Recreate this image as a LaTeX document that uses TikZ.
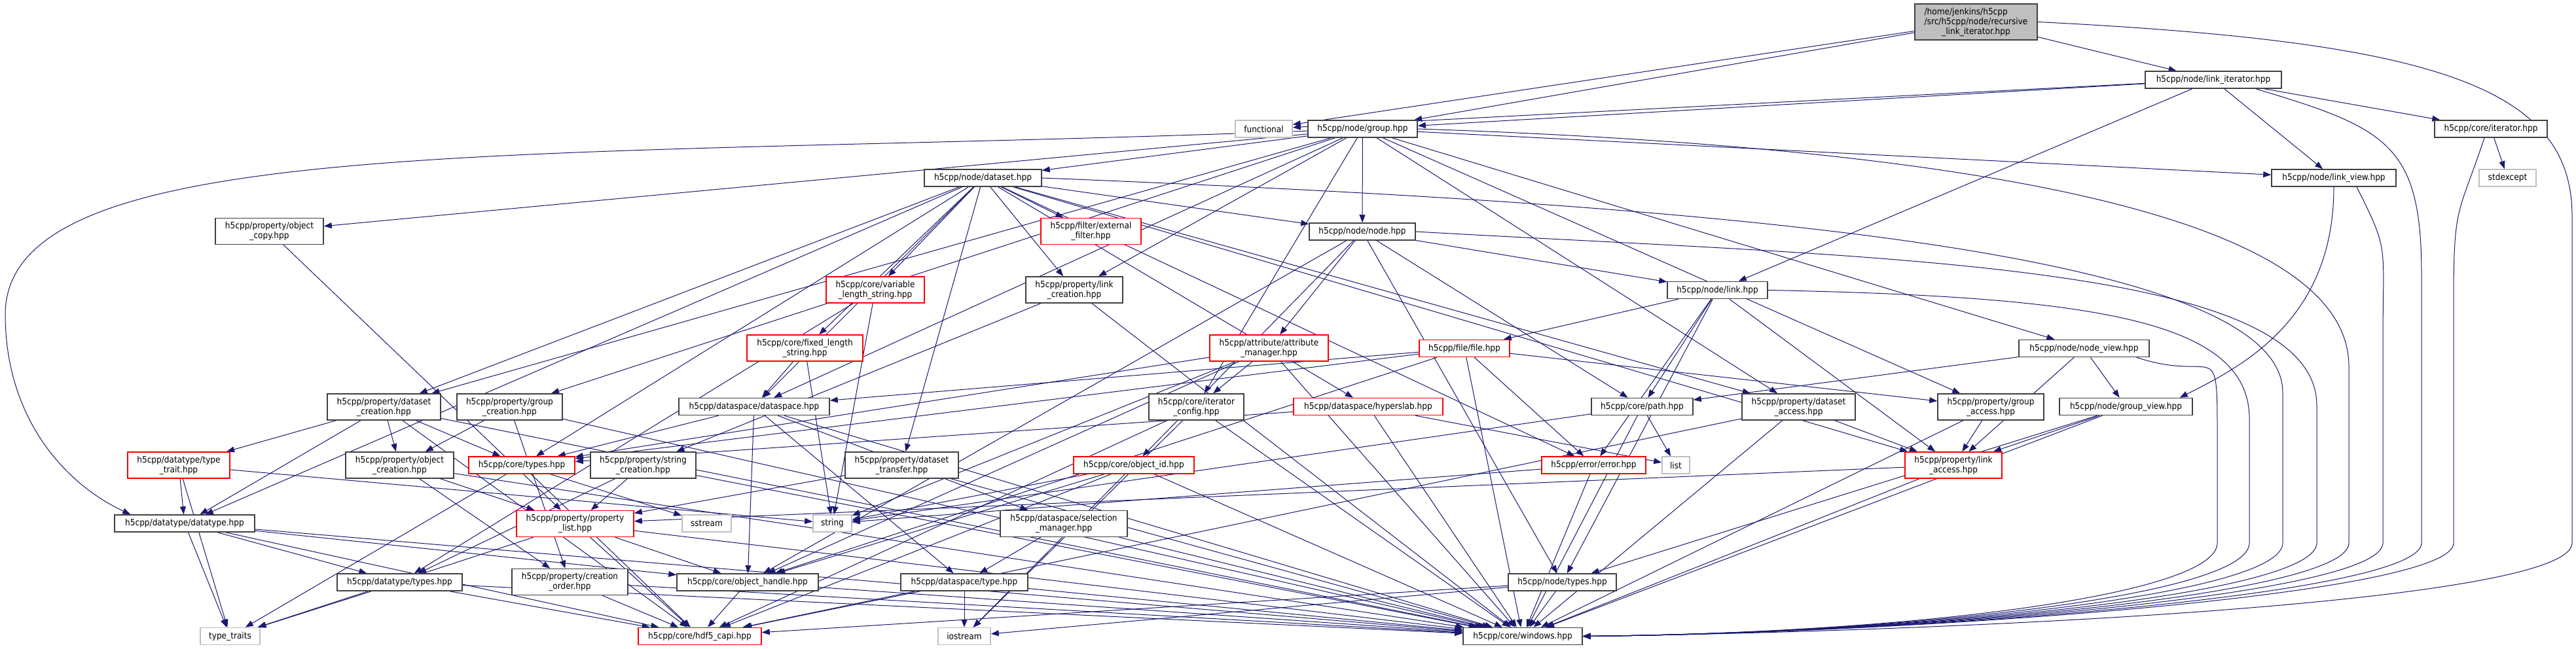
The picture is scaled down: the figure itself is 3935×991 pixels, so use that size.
\documentclass[tikz,border=0pt]{standalone}
\usepackage{fontspec}
\newfontfamily\dfont{DejaVu Sans Condensed}
\usetikzlibrary{arrows.meta}
\pgfdeclarelayer{back}
\pgfdeclarelayer{bg}
\pgfsetlayers{back,bg,main}
\definecolor{edgec}{HTML}{191970}
\definecolor{bordc}{HTML}{404040}
\definecolor{grayc}{HTML}{BFBFBF}
\definecolor{redc}{HTML}{FF0000}
\begin{document}
\begin{tikzpicture}[x=1pt,y=1pt,
  box/.style={draw=bordc, line width=1.5pt, fill=white, inner sep=0pt, align=center,
    font=\dfont\fontsize{13.5}{15}\selectfont, minimum height=26pt},
  tall/.style={minimum height=40pt},
  redbox/.style={box, draw=redc},
  sysbox/.style={box, draw=grayc},
  e/.style={draw=edgec, line width=1pt, -{Triangle[length=12pt,width=9pt]}},
]
\begin{pgfonlayer}{back}
\fill[white] (0,0) rectangle (3935,-991);
\end{pgfonlayer}
\useasboundingbox (0,0) rectangle (3935,-991);

% nodes
\node[box, fill=grayc, minimum width=187pt, minimum height=55pt] (root) at (3018.5,-33.5)
  {\rlap{/home/jenkins/h5cpp}\phantom{/src/h5cpp/node/recursive}\\/src/h5cpp/node/recursive\\\_link\_iterator.hpp};
\node[sysbox, minimum width=87pt] (fn) at (1930.5,-197) {functional};
\node[box, minimum width=167pt] (grp) at (2081.5,-197) {h5cpp/node/group.hpp};
\node[box, minimum width=208pt] (liter) at (3381,-122) {h5cpp/node/link\_iterator.hpp};
\node[box, minimum width=172pt] (citer) at (3805,-197) {h5cpp/core/iterator.hpp};
\node[sysbox, minimum width=87pt] (stdexc) at (3830.5,-272) {stdexcept};
\node[box, minimum width=190pt] (lview) at (3565,-272) {h5cpp/node/link\_view.hpp};
\node[box, minimum width=179pt] (dset) at (1501.5,-272) {h5cpp/node/dataset.hpp};
\node[box, minimum width=162pt] (node) at (2081,-354) {h5cpp/node/node.hpp};
\node[box, tall, minimum width=165pt] (ocopy) at (411.5,-353.5) {h5cpp/property/object\\\_copy.hpp};
\node[redbox, tall, minimum width=153pt] (extf) at (1666.5,-353.5) {h5cpp/filter/external\\\_filter.hpp};
\node[box, tall, minimum width=148pt] (lcre) at (1641,-443) {h5cpp/property/link\\\_creation.hpp};
\node[redbox, tall, minimum width=150pt] (vls) at (1337,-443) {h5cpp/core/variable\\\_length\_string.hpp};
\node[box, minimum width=153pt] (link) at (2623.5,-443.5) {h5cpp/node/link.hpp};
\node[redbox, tall, minimum width=177pt] (fls) at (1229.5,-532) {h5cpp/core/fixed\_length\\\_string.hpp};
\node[redbox, tall, minimum width=181pt] (attm) at (1938.5,-532) {h5cpp/attribute/attribute\\\_manager.hpp};
\node[redbox, minimum width=138pt] (file) at (2237,-532.5) {h5cpp/file/file.hpp};
\node[box, minimum width=199pt] (nview) at (3183.5,-532.5) {h5cpp/node/node\_view.hpp};
\node[box, tall, minimum width=173pt] (dscre) at (586.5,-622) {h5cpp/property/dataset\\\_creation.hpp};
\node[box, tall, minimum width=161pt] (gcre) at (778.5,-622) {h5cpp/property/group\\\_creation.hpp};
\node[box, minimum width=230pt] (dspace) at (1152,-621.5) {h5cpp/dataspace/dataspace.hpp};
\node[box, tall, minimum width=145pt] (itcfg) at (1827.5,-622) {h5cpp/core/iterator\\\_config.hpp};
\node[redbox, minimum width=228pt] (hslab) at (2090,-621.5) {h5cpp/dataspace/hyperslab.hpp};
\node[box, minimum width=155pt] (path) at (2508.5,-621.5) {h5cpp/core/path.hpp};
\node[box, tall, minimum width=173pt] (dsacc) at (2747.5,-622) {h5cpp/property/dataset\\\_access.hpp};
\node[box, tall, minimum width=162pt] (gacc) at (3041,-622) {h5cpp/property/group\\\_access.hpp};
\node[box, minimum width=203pt] (gview) at (3247.5,-621.5) {h5cpp/node/group\_view.hpp};
\node[redbox, tall, minimum width=156pt] (ttrait) at (273,-711) {h5cpp/datatype/type\\\_trait.hpp};
\node[box, tall, minimum width=165pt] (ocre) at (610.5,-711) {h5cpp/property/object\\\_creation.hpp};
\node[redbox, minimum width=162pt] (ctypes) at (797,-711) {h5cpp/core/types.hpp};
\node[box, tall, minimum width=161pt] (strcre) at (982.5,-711) {h5cpp/property/string\\\_creation.hpp};
\node[box, tall, minimum width=173pt] (dstr) at (1377.5,-711) {h5cpp/property/dataset\\\_transfer.hpp};
\node[redbox, minimum width=184pt] (oid) at (1732,-711) {h5cpp/core/object\_id.hpp};
\node[redbox, minimum width=159pt] (err) at (2434.5,-711) {h5cpp/error/error.hpp};
\node[sysbox, minimum width=42pt] (list) at (2560,-711) {list};
\node[redbox, tall, minimum width=148pt] (lacc) at (2984,-711) {h5cpp/property/link\\\_access.hpp};
\node[box, minimum width=214pt] (dtype) at (282,-800) {h5cpp/datatype/datatype.hpp};
\node[redbox, tall, minimum width=179pt] (plist) at (878.5,-800.5) {h5cpp/property/property\\\_list.hpp};
\node[sysbox, minimum width=75pt] (sstream) at (1079.5,-800) {sstream};
\node[sysbox, minimum width=59pt] (string) at (1271.5,-800) {string};
\node[box, tall, minimum width=194pt] (selm) at (1625,-800.5) {h5cpp/dataspace/selection\\\_manager.hpp};
\node[box, minimum width=191pt] (dtypes) at (610.5,-890) {h5cpp/datatype/types.hpp};
\node[box, tall, minimum width=177pt] (corder) at (870.5,-889.5) {h5cpp/property/creation\\\_order.hpp};
\node[box, minimum width=216pt] (ohandle) at (1142,-890) {h5cpp/core/object\_handle.hpp};
\node[box, minimum width=194pt] (dstype) at (1473,-890) {h5cpp/dataspace/type.hpp};
\node[box, minimum width=165pt] (ntypes) at (2386.5,-890) {h5cpp/node/types.hpp};
\node[sysbox, minimum width=91pt] (ttraits) at (351.5,-972.5) {type\_traits};
\node[redbox, minimum width=188pt] (capi) at (1069,-972.5) {h5cpp/core/hdf5\_capi.hpp};
\node[sysbox, minimum width=80pt] (iostream) at (1473,-972.5) {iostream};
\node[box, minimum width=182pt] (windows) at (2326,-972.5) {h5cpp/core/windows.hpp};

\begin{pgfonlayer}{bg}
% root
\draw[e] (root) -- (fn);
\draw[e] (root) -- (grp);
\draw[e] (root) -- (liter);
\draw[e] (root.east) .. controls +(600,-30) and +(0,200) .. (3929,-330) -- (3929,-830) .. controls +(0,-90) and +(600,8) .. (windows.east);
% link_iterator
\draw[e] (liter) -- (fn);
\draw[e] (liter) -- (grp);
\draw[e] (liter) -- (link);
\draw[e] (liter) -- (lview);
\draw[e] (liter) -- (citer);
\draw[e] ([xshift=-40pt]liter.south east) .. controls +(200,-60) and +(0,200) .. (3699,-420) -- (3699,-830) .. controls +(0,-80) and +(500,5) .. (windows.east);
% core/iterator
\draw[e] (citer) -- (stdexc);
\draw[e] ([xshift=-10pt]citer.south) .. controls +(-40,-120) and +(0,150) .. (3748,-460) -- (3748,-830) .. controls +(0,-80) and +(500,5) .. (windows.east);
% link_view
\draw[e] ([xshift=35pt]lview.south) .. controls +(50,-100) and +(0,150) .. (3640,-520) -- (3640,-830) .. controls +(0,-80) and +(500,5) .. (windows.east);
\draw[e] (lview.south) .. controls +(0,-200) and +(100,50) .. ([xshift=-20pt]gview.north east);
% group
\draw[e] (grp) -- (node);
\draw[e] (grp) -- (dset);
\draw[e] (grp) -- (lview);
\draw[e] (grp) -- (nview);
\draw[e] (grp) -- (gacc);
\draw[e] (grp) -- (dsacc);
\draw[e] (grp) -- (lcre);
\draw[e] (grp) -- (gcre);
\draw[e] (grp) -- (dscre);
\draw[e] (grp) -- (itcfg);
\draw[e] (grp) -- (dspace);
\draw[e] (grp) -- (ocopy);
\draw[e] (grp) .. controls (800,-245) and (10,-200) .. (8,-480) .. controls (8,-640) and (100,-740) .. ([xshift=25pt]dtype.north west);
\draw[e] (grp.east) .. controls +(900,-30) and +(0,220) .. (3588,-560) -- (3588,-830) .. controls +(0,-80) and +(500,5) .. (windows.east);
% dataset
\draw[e] (dset) -- (node);
\draw[e] (dset) -- (dspace);
\draw[e] (dset) -- (hslab);
\draw[e] (dset) -- (dtype);
\draw[e] (dset) -- (dstr);
\draw[e] (dset) -- (dsacc);
\draw[e] (dset) -- (dscre);
\draw[e] (dset) -- (lcre);
\draw[e] (dset) -- (ctypes);
\draw[e] (dset) -- (fls);
\draw[e] (dset) -- (vls);
\draw[e] (dset) -- (err);
\draw[e] (dset) -- (extf);
\draw[e] (dset) -- (lacc);
\draw[e] (dset.east) .. controls +(1000,-40) and +(0,220) .. (3487,-600) -- (3487,-830) .. controls +(0,-80) and +(500,5) .. (windows.east);
% node
\draw[e] (node) -- (ohandle);
\draw[e] (node) -- (path);
\draw[e] (node) -- (link);
\draw[e] (node) -- (ntypes);
\draw[e] (node) -- (attm);
\draw[e] (node) -- (oid);
\draw[e] (node.east) .. controls +(700,-40) and +(0,220) .. (3539,-620) -- (3539,-830) .. controls +(0,-80) and +(500,5) .. (windows.east);
% link
\draw[e] (link) -- (file);
\draw[e] (link) -- (path);
\draw[e] (link) -- (ntypes);
\draw[e] (link) -- (lacc);
\draw[e] (link) -- (err);
\draw[e] (link.east) .. controls +(500,-10) and +(0,150) .. (3436,-640) -- (3436,-830) .. controls +(0,-80) and +(500,5) .. (windows.east);
% file
\draw[e] (file) -- (dspace);
\draw[e] (file) -- (ctypes);
\draw[e] (file) -- (err);
\draw[e] (file) -- (gacc);
\draw[e] (file) -- (ohandle);
\draw[e] (file) -- (windows);
% attribute_manager
\draw[e] (attm) -- (itcfg);
\draw[e] (attm) -- (ctypes);
\draw[e] (attm) -- (string);
\draw[e] (attm) -- (ohandle);
\draw[e] (attm) -- (windows);
% node_view
\draw[e] (nview) -- (path);
\draw[e] (nview) -- (lacc);
\draw[e] (nview) -- (gview);
\draw[e] ([xshift=-20pt]nview.south east) .. controls +(120,-40) and +(0,150) .. (3387,-660) -- (3387,-830) .. controls +(0,-80) and +(500,5) .. (windows.east);
% dataset_creation
\draw[e] (dscre) -- (ttrait);
\draw[e] (dscre) -- (ocre);
\draw[e] (dscre) -- (ctypes);
\draw[e] (dscre) -- (dtype);
\draw[e] (dscre) -- (capi);
\draw[e] (dscre) -- (windows);
% group_creation
\draw[e] (gcre) -- (ocre);
\draw[e] (gcre) -- (corder);
\draw[e] (gcre) -- (windows);
% dataspace
\draw[e] (dspace) -- (ctypes);
\draw[e] (dspace) -- (ohandle);
\draw[e] (dspace) -- (selm);
\draw[e] (dspace) -- (dstype);
\draw[e] (dspace) -- (windows);
% iterator_config
\draw[e] (itcfg) -- (capi);
\draw[e] (itcfg) -- (iostream);
\draw[e] (itcfg) -- (windows);
% hyperslab
\draw[e] (hslab) -- (list);
\draw[e] (hslab) -- (ctypes);
\draw[e] (hslab) -- (windows);
% path
\draw[e] (path) -- (list);
\draw[e] (path) -- (string);
\draw[e] (path) -- (windows);
% dataset_access
\draw[e] (dsacc) -- (lacc);
\draw[e] (dsacc) -- (capi);
\draw[e] (dsacc) -- (windows);
% group_access
\draw[e] (gacc) -- (lacc);
\draw[e] (gacc) -- (windows);
% group_view
\draw[e] (gview) -- (lacc);
\draw[e] (gview) -- (ntypes);
\draw[e] (gview) -- (windows);
% type_trait
\draw[e] (ttrait) -- (dtype);
\draw[e] (ttrait) -- (ttraits);
\draw[e] (ttrait) -- (string);
% object_creation
\draw[e] (ocre) -- (plist);
\draw[e] (ocre) -- (corder);
\draw[e] (ocre) -- (windows);
% core/types
\draw[e] (ctypes) -- (ttraits);
\draw[e] (ctypes) -- (sstream);
\draw[e] (ctypes) -- (capi);
% string_creation
\draw[e] (strcre) -- (plist);
\draw[e] (strcre) -- (dtypes);
\draw[e] (strcre) -- (windows);
% dataset_transfer
\draw[e] (dstr) -- (plist);
\draw[e] (dstr) -- (windows);
% object_id
\draw[e] (oid) -- (string);
\draw[e] (oid) -- (ohandle);
\draw[e] (oid) -- (capi);
\draw[e] (oid) -- (iostream);
\draw[e] (oid) -- (windows);
% error
\draw[e] (err) -- (string);
\draw[e] (err) -- (windows);
% link_access
\draw[e] (lacc) -- (plist);
\draw[e] (lacc) -- (windows);
% datatype
\draw[e] (dtype) -- (dtypes);
\draw[e] (dtype) -- (ttraits);
\draw[e] (dtype) -- (ohandle);
\draw[e] (dtype) -- (capi);
\draw[e] (dtype) -- (windows);
% property_list
\draw[e] (plist) -- (ohandle);
\draw[e] (plist) -- (capi);
\draw[e] (plist) -- (ttraits);
\draw[e] (plist) -- (windows);
% selection_manager
\draw[e] (selm) -- (dstype);
\draw[e] (selm) -- (windows);
% datatype/types
\draw[e] (dtypes) -- (ttraits);
\draw[e] (dtypes) -- (capi);
\draw[e] (dtypes) -- (windows);
% creation_order
\draw[e] (corder) -- (capi);
\draw[e] (corder) -- (windows);
% object_handle
\draw[e] (ohandle) -- (capi);
\draw[e] (ohandle) -- (windows);
% dataspace/type
\draw[e] (dstype) -- (iostream);
\draw[e] (dstype) -- (capi);
\draw[e] (dstype) -- (windows);
% node/types
\draw[e] (ntypes) -- (windows);
\draw[e] (ntypes) -- (capi);
\draw[e] (ntypes) -- (iostream);
% strings
\draw[e] (vls) -- (string);
\draw[e] (vls) -- (dtypes);
\draw[e] (fls) -- (dspace);
\draw[e] (fls) -- (string);
% link_creation
\draw[e] (lcre) -- (strcre);
\draw[e] (lcre) -- (windows);
% object_copy
\draw[e] (ocopy) -- (plist);
\end{pgfonlayer}
\end{tikzpicture}
\end{document}
